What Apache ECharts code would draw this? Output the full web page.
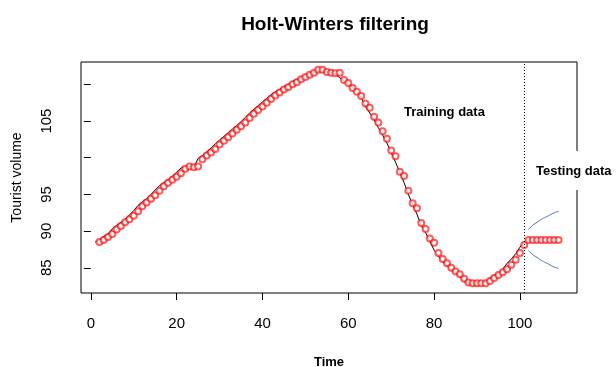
<!DOCTYPE html>
<html>
<head>
<meta charset="utf-8">
<script src="https://cdn.jsdelivr.net/npm/echarts@6/dist/echarts.min.js"></script>
<style>
  html, body { margin: 0; padding: 0; background: #fff; }
  #chart { width: 616px; height: 367px; }
</style>
</head>
<body>
<div id="chart"></div>
<script>
// ---- data ----
const observedStart = 1;
const observed = [
  88.5, 88.8, 89.3, 89.6, 90.3, 90.8, 91.2, 91.6, 92.2, 92.8,
  93.5, 94.0, 94.4, 95.0, 95.6, 96.2, 96.6, 97.0, 97.5, 98.0,
  98.6, 98.8, 98.8, 98.7, 99.9, 100.3, 100.8, 101.3, 101.9, 102.4,
  102.9, 103.4, 103.9, 104.4, 104.9, 105.5, 106.1, 106.6, 107.1, 107.6,
  108.1, 108.6, 109.0, 109.3, 109.7, 110.0, 110.4, 110.7, 111.0, 111.3,
  111.5, 111.7, 111.8, 111.8, 111.7, 111.6, 111.4, 110.9, 110.5, 110.0,
  109.6, 109.0, 108.2, 107.0, 106.1, 105.2, 104.1, 103.1, 102.0, 100.7,
  99.4, 98.0, 96.6, 95.0, 93.6, 92.3, 90.8, 89.8, 88.6, 87.4,
  86.6, 85.8, 85.3, 84.7, 84.3, 83.8, 83.1, 82.9, 82.9, 82.9,
  82.9, 83.1, 83.6, 84.0, 84.3, 84.8, 85.6, 86.2, 86.9, 87.8,
  88.6
];
const fittedStart = 2;
const fitted = [
  88.5, 88.8, 89.2, 89.6, 90.2, 90.7, 91.2, 91.6, 92.1, 92.7,
  93.4, 93.9, 94.4, 94.9, 95.5, 96.1, 96.6, 97.0, 97.4, 97.9,
  98.5, 98.8, 98.7, 98.8, 99.8, 100.3, 100.7, 101.2, 101.8, 102.3,
  102.8, 103.3, 103.8, 104.3, 104.8, 105.4, 106.0, 106.5, 107.0, 107.5,
  108.0, 108.5, 108.9, 109.3, 109.6, 110.0, 110.3, 110.7, 111.0, 111.3,
  111.6, 112.0, 112.0, 111.7, 111.6, 111.5, 111.6, 110.6, 110.2, 109.5,
  109.0, 108.4, 107.4, 106.8, 105.6, 104.8, 103.6, 102.6, 101.0, 100.2,
  98.1, 97.5, 95.5, 93.8, 93.1, 91.1, 90.3, 89.0, 88.4, 87.0,
  86.2, 85.6, 85.0, 84.5, 84.1, 83.5, 83.0, 82.9, 82.9, 82.9,
  82.9, 83.2, 83.6, 84.0, 84.4, 84.8, 85.4, 86.1, 87.0, 88.1
];
const trainEnd = 101;
const forecastStart = 102;
const forecast = [88.8, 88.8, 88.8, 88.8, 88.8, 88.8, 88.8, 88.8];
const upperBound = [90.2, 90.8, 91.2, 91.6, 91.9, 92.2, 92.5, 92.7];
const lowerBound = [87.4, 86.8, 86.4, 86.0, 85.7, 85.4, 85.1, 84.9];

const xTicks = [0, 20, 40, 60, 80, 100];
const yTicks = [85, 90, 95, 100, 105, 110];
const yTickLabels = [85, 90, 95, 105];

const titleText = 'Holt-Winters filtering';
const xName = 'Time';
const yName = 'Tourist volume';
const trainLabel = 'Training data';
const testLabel = 'Testing data';

// ---- build ----
const toPairs = (arr, start) => arr.map((v, i) => [start + i, v]);

const chart = echarts.init(document.getElementById('chart'), null, { renderer: 'canvas' });
const font = 'Liberation Sans, Arial, sans-serif';
const circleStyle = { color: 'rgba(255,0,0,0.8)', borderColor: 'rgba(255,0,0,0.8)', borderWidth: 0.7 };

chart.setOption({
  animation: false,
  backgroundColor: '#fff',
  title: {
    text: titleText,
    left: 330, top: 10,
    textAlign: 'center',
    textStyle: { fontFamily: font, fontSize: 19, fontWeight: 'bold', color: '#000' }
  },
  grid: {
    left: 81, right: 39, top: 62, bottom: 74,
    containLabel: false, outerBoundsMode: 'none',
    show: true, borderColor: '#000', borderWidth: 1, backgroundColor: 'transparent'
  },
  xAxis: {
    type: 'value', min: -2.3, max: 113.3,
    name: xName, nameLocation: 'middle', nameGap: 63,
    nameTextStyle: { fontFamily: font, fontSize: 13, fontWeight: 'bold', color: '#000' },
    axisLine: { show: false },
    axisTick: { show: true, length: 7, lineStyle: { color: '#000' }, customValues: xTicks },
    axisLabel: { customValues: xTicks, margin: 23, fontFamily: font, fontSize: 15, color: '#000' },
    splitLine: { show: false }
  },
  yAxis: {
    type: 'value', min: 81.56, max: 113.05,
    name: yName, nameLocation: 'middle', nameGap: 57,
    nameTextStyle: { fontFamily: font, fontSize: 14, color: '#000' },
    axisLine: { show: false },
    axisTick: { show: true, length: 7, lineStyle: { color: '#000' }, customValues: yTicks },
    axisLabel: { customValues: yTickLabels, rotate: 90, margin: 27, fontFamily: font, fontSize: 15, color: '#000' },
    splitLine: { show: false }
  },
  graphic: [
    { type: 'text', z: 100, left: 404, top: 106,
      style: { text: trainLabel, font: 'bold 13px ' + font, fill: '#000' } },
    { type: 'rect', z: 99, shape: { x: 532, y: 151, width: 84, height: 39 },
      style: { fill: '#fff' } },
    { type: 'text', z: 100, left: 536, top: 165,
      style: { text: testLabel, font: 'bold 13px ' + font, fill: '#000' } }
  ],
  series: [
    {
      type: 'line', data: toPairs(observed, observedStart),
      showSymbol: false, symbol: 'none',
      lineStyle: { color: '#000', width: 1 }, z: 2,
      markLine: {
        silent: true, symbol: ['none', 'none'], label: { show: false },
        lineStyle: { color: '#000', width: 1, type: [1, 2] },
        data: [{ xAxis: trainEnd }]
      }
    },
    {
      type: 'scatter', data: toPairs(fitted, fittedStart),
      symbol: 'emptyCircle', symbolSize: 6,
      itemStyle: circleStyle, z: 3
    },
    {
      type: 'scatter', data: toPairs(forecast, forecastStart),
      symbol: 'emptyCircle', symbolSize: 6,
      itemStyle: circleStyle, z: 3
    },
    {
      type: 'line', data: toPairs(upperBound, forecastStart), smooth: true,
      showSymbol: false, symbol: 'none', lineStyle: { color: '#4a6fbf', width: 1 }
    },
    {
      type: 'line', data: toPairs(lowerBound, forecastStart), smooth: true,
      showSymbol: false, symbol: 'none', lineStyle: { color: '#4a6fbf', width: 1 }
    }
  ]
});
</script>
</body>
</html>
